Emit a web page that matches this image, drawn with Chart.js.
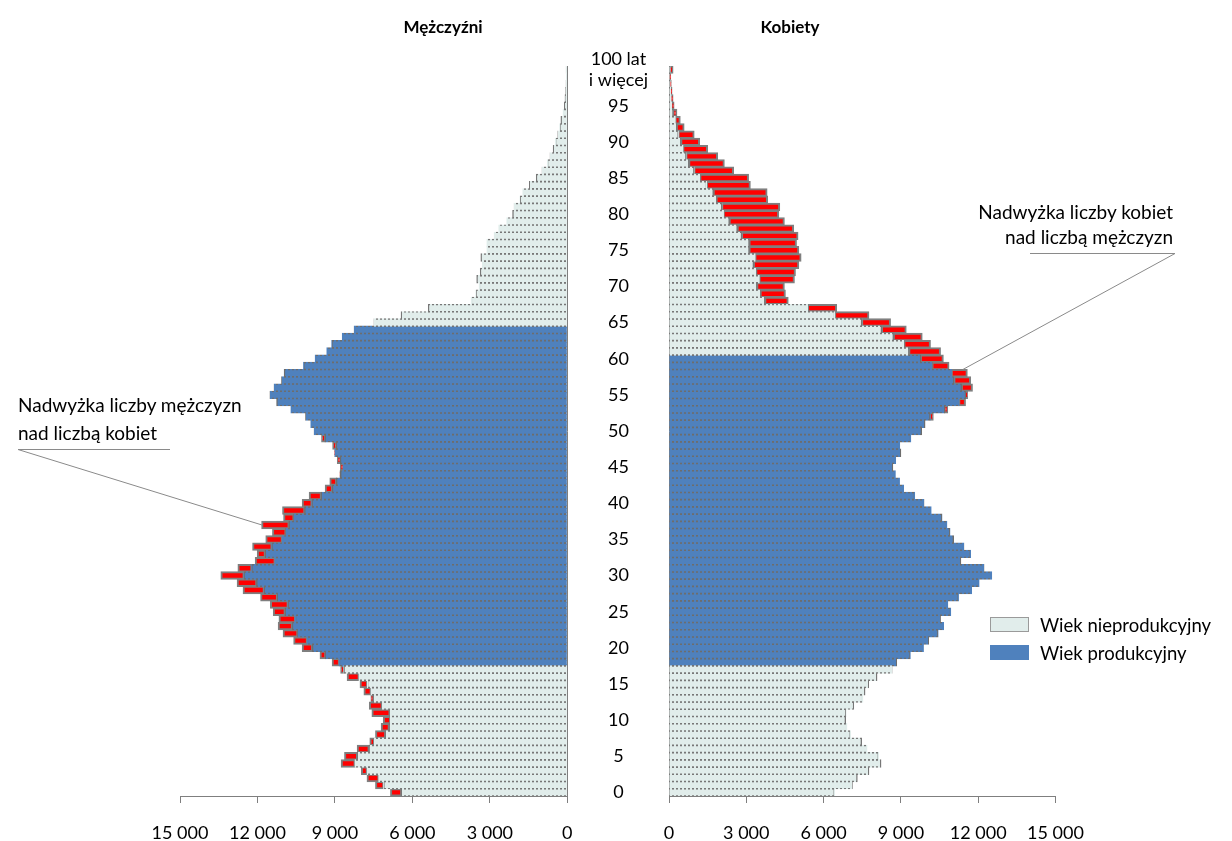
<!DOCTYPE html>
<html>
<head>
<meta charset="utf-8">
<script src="https://cdn.jsdelivr.net/npm/chart.js@4.4.1/dist/chart.umd.min.js"></script>
<style>
  body { margin: 0; width: 1232px; height: 841px; position: relative; background: #fff; overflow: hidden; font-family: Lato, sans-serif; color: #000; }
  canvas { position: absolute; top: 0; }
  #male { left: 0; }
  #female { left: 560px; }
  .title { position: absolute; top: 16px; font-weight: bold; font-size: 17px; line-height: 22px; transform: translateX(-50%); white-space: nowrap; }
  .note { position: absolute; font-size: 19px; white-space: nowrap; }
  .sw { position: absolute; left: 990px; width: 39px; height: 15px; box-sizing: border-box; }
  .lg { position: absolute; left: 1040px; font-size: 18.5px; line-height: 22px; white-space: nowrap; }
</style>
</head>
<body>
<canvas id="male" width="600" height="841"></canvas>
<canvas id="female" width="672" height="841"></canvas>

<div class="title" style="left:443px">Mężczyźni</div>
<div class="title" style="left:790px">Kobiety</div>

<div class="note" style="left:18px; top:391px; line-height:28px">Nadwyżka liczby mężczyzn<br>nad liczbą kobiet</div>
<div class="note" style="right:59px; top:199px; line-height:25px; text-align:right">Nadwyżka liczby kobiet<br>nad liczbą mężczyzn</div>

<div class="sw" style="top:617px; background:#e1edeb; border:1px solid #9a9a9a"></div>
<div class="lg" style="top:614px">Wiek nieprodukcyjny</div>
<div class="sw" style="top:645px; background:#4f81bd"></div>
<div class="lg" style="top:642px">Wiek produkcyjny</div>

<script>
// wiek 0 .. 100 (ostatnia grupa: 100 lat i więcej)
var ages = [
  '0','1','2','3','4','5','6','7','8','9','10','11','12','13','14','15','16','17','18','19',
  '20','21','22','23','24','25','26','27','28','29','30','31','32','33','34','35','36','37','38','39',
  '40','41','42','43','44','45','46','47','48','49','50','51','52','53','54','55','56','57','58','59',
  '60','61','62','63','64','65','66','67','68','69','70','71','72','73','74','75','76','77','78','79',
  '80','81','82','83','84','85','86','87','88','89','90','91','92','93','94','95','96','97','98','99','100'
];

var males = [
  6840, 7420, 7750, 7970, 8750, 8620, 8130, 7640, 7420, 7200,
  7120, 7560, 7660, 7600, 7870, 8020, 8520, 8770, 9100, 9570,
  10260, 10590, 11000, 11190, 11160, 11380, 11490, 11870, 12550, 12780,
  13410, 12750, 12080, 12000, 12180, 11670, 11410, 11830, 10980, 11020,
  10260, 9990, 9370, 9190, 8800, 8780, 8900, 9000, 9080, 9510,
  9800, 9930, 10130, 10700, 11250, 11510, 11350, 11060, 10960, 10210,
  9760, 9310, 9120, 8710, 8250, 7480, 6430, 5380, 3720, 3540,
  3410, 3500, 3370, 3280, 3340, 3110, 3110, 2820, 2650, 2340,
  2110, 2050, 1830, 1720, 1460, 1200, 970, 770, 660, 540,
  460, 360, 290, 240, 160, 110, 80, 55, 40, 25,
  35
];

var females = [
  6420, 7110, 7300, 7750, 8220, 8130, 7680, 7470, 7040, 6900,
  6850, 6870, 7170, 7520, 7600, 7740, 8065, 8650, 8830, 9360,
  9870, 10070, 10440, 10650, 10530, 10930, 10815, 11230, 11740, 12030,
  12520, 12220, 11320, 11700, 11440, 11040, 10900, 10780, 10590, 10170,
  9890, 9530, 9100, 8940, 8780, 8680, 8790, 8990, 8950, 9380,
  9800, 9930, 10250, 10810, 11500, 11580, 11770, 11700, 11570, 10860,
  10640, 10530, 10140, 9820, 9200, 8590, 7750, 6500, 4620, 4510,
  4470, 4860, 4900, 5030, 5120, 5030, 4940, 5000, 4830, 4470,
  4250, 4290, 3820, 3800, 3150, 3080, 2500, 2140, 1880, 1490,
  1180, 970, 580, 430, 300, 190, 150, 110, 80, 60,
  150
];

// wiek produkcyjny (od, do) tak jak na rysunku
var prodMale = [18, 64];
var prodFemale = [18, 60];

var ageTicks = [0, 5, 10, 15, 20, 25, 30, 35, 40, 45, 50, 55, 60, 65, 70, 75, 80, 85, 90, 95, 100];
var ageTickText = ['0','5','10','15','20','25','30','35','40','45','50','55','60','65','70','75','80','85','90','95',['100 lat','i więcej']];

var LIGHT = '#e1edeb';
var BLUE = '#4f81bd';
var RED = '#ff0000';
var GRAY = '#7f7f7f';

// kreskowana ramka słupków (szare kreski co 4 px)
function dashed(bg, ink) {
  var c = document.createElement('canvas');
  c.width = 4; c.height = 1;
  var g = c.getContext('2d');
  g.fillStyle = bg;
  g.fillRect(0, 0, 4, 1);
  g.fillStyle = ink;
  g.fillRect(0, 0, 2, 1);
  return g.createPattern(c, 'repeat');
}

function split(own, other, range) {
  var np = [], pr = [], ex = [];
  own.forEach(function(v, i) {
    var base = Math.min(v, other[i]);
    var inProd = i >= range[0] && i <= range[1];
    np.push(inProd ? null : base);
    pr.push(inProd ? base : null);
    ex.push(v > other[i] ? v - base : null);
  });
  return [np, pr, ex];
}

function thousands(v) {
  return String(v).replace(/\B(?=(\d{3})+(?!\d))/g, ' ');
}

var leader = {
  id: 'leader',
  afterDraw: function(chart) {
    var a = chart.options.plugins.leader;
    if (!a) return;
    var ctx = chart.ctx;
    var px = chart.scales.x.getPixelForValue(a.value);
    var py = chart.scales.y.getPixelForValue(a.age);
    ctx.save();
    ctx.strokeStyle = '#8a8a8a';
    ctx.lineWidth = 1;
    ctx.beginPath();
    ctx.moveTo(a.under[0], a.under[2]);
    ctx.lineTo(a.under[1], a.under[2]);
    ctx.moveTo(a.from[0], a.from[1]);
    ctx.lineTo(px, py);
    ctx.stroke();
    ctx.restore();
  }
};

function pyramid(id, own, other, range, left, note) {
  var s = split(own, other, range);
  return new Chart(document.getElementById(id), {
    type: 'bar',
    data: {
      labels: ages,
      datasets: [
        { label: 'Wiek nieprodukcyjny', data: s[0], backgroundColor: LIGHT, borderColor: dashed(LIGHT, '#777'), borderWidth: 1.4 },
        { label: 'Wiek produkcyjny', data: s[1], backgroundColor: BLUE, borderColor: dashed(BLUE, '#6d6d6d'), borderWidth: 1.4 },
        { label: 'Nadwyżka', data: s[2], backgroundColor: RED, borderColor: GRAY, borderWidth: 2, borderSkipped: false }
      ]
    },
    options: {
      indexAxis: 'y',
      responsive: false,
      animation: false,
      layout: { padding: left ? { left: 180, right: 32.7, top: 66, bottom: 0 } : { left: 0, right: 176.5, top: 66, bottom: 0 } },
      datasets: { bar: { barPercentage: 1, categoryPercentage: 1, inflateAmount: 0.6 } },
      plugins: { legend: { display: false }, tooltip: { enabled: false }, leader: note },
      scales: {
        x: {
          stacked: true, reverse: left, min: 0, max: 15000,
          afterFit: function(sc) { sc.height = 45; },
          grid: { drawOnChartArea: false, drawTicks: true, tickLength: 7, color: GRAY },
          border: { color: GRAY },
          ticks: { stepSize: 3000, padding: 19, color: '#000', font: { family: 'Lato', size: 18 }, maxRotation: 0, callback: function(v) { return thousands(v); } }
        },
        y: {
          stacked: true, reverse: true, position: left ? 'right' : 'left',
          afterFit: function(sc) { sc.width = left ? 0 : 109; },
          grid: { drawOnChartArea: false, drawTicks: false },
          border: { color: GRAY },
          ticks: {
            display: !left, autoSkip: false, crossAlign: 'center', padding: 21, color: '#000',
            font: { family: 'Lato', size: 18 },
            callback: function(v, i) {
              var k = ageTicks.indexOf(i);
              return k < 0 ? '' : ageTickText[k];
            }
          }
        }
      }
    },
    plugins: [leader]
  });
}

pyramid('male', males, females, prodMale, true, { age: 37, value: males[37], under: [18, 170, 449.5], from: [18, 449.5] });
pyramid('female', females, males, prodFemale, false, { age: 58.5, value: 11400, under: [470, 615, 253.5], from: [615, 253.5] });
</script>
</body>
</html>
